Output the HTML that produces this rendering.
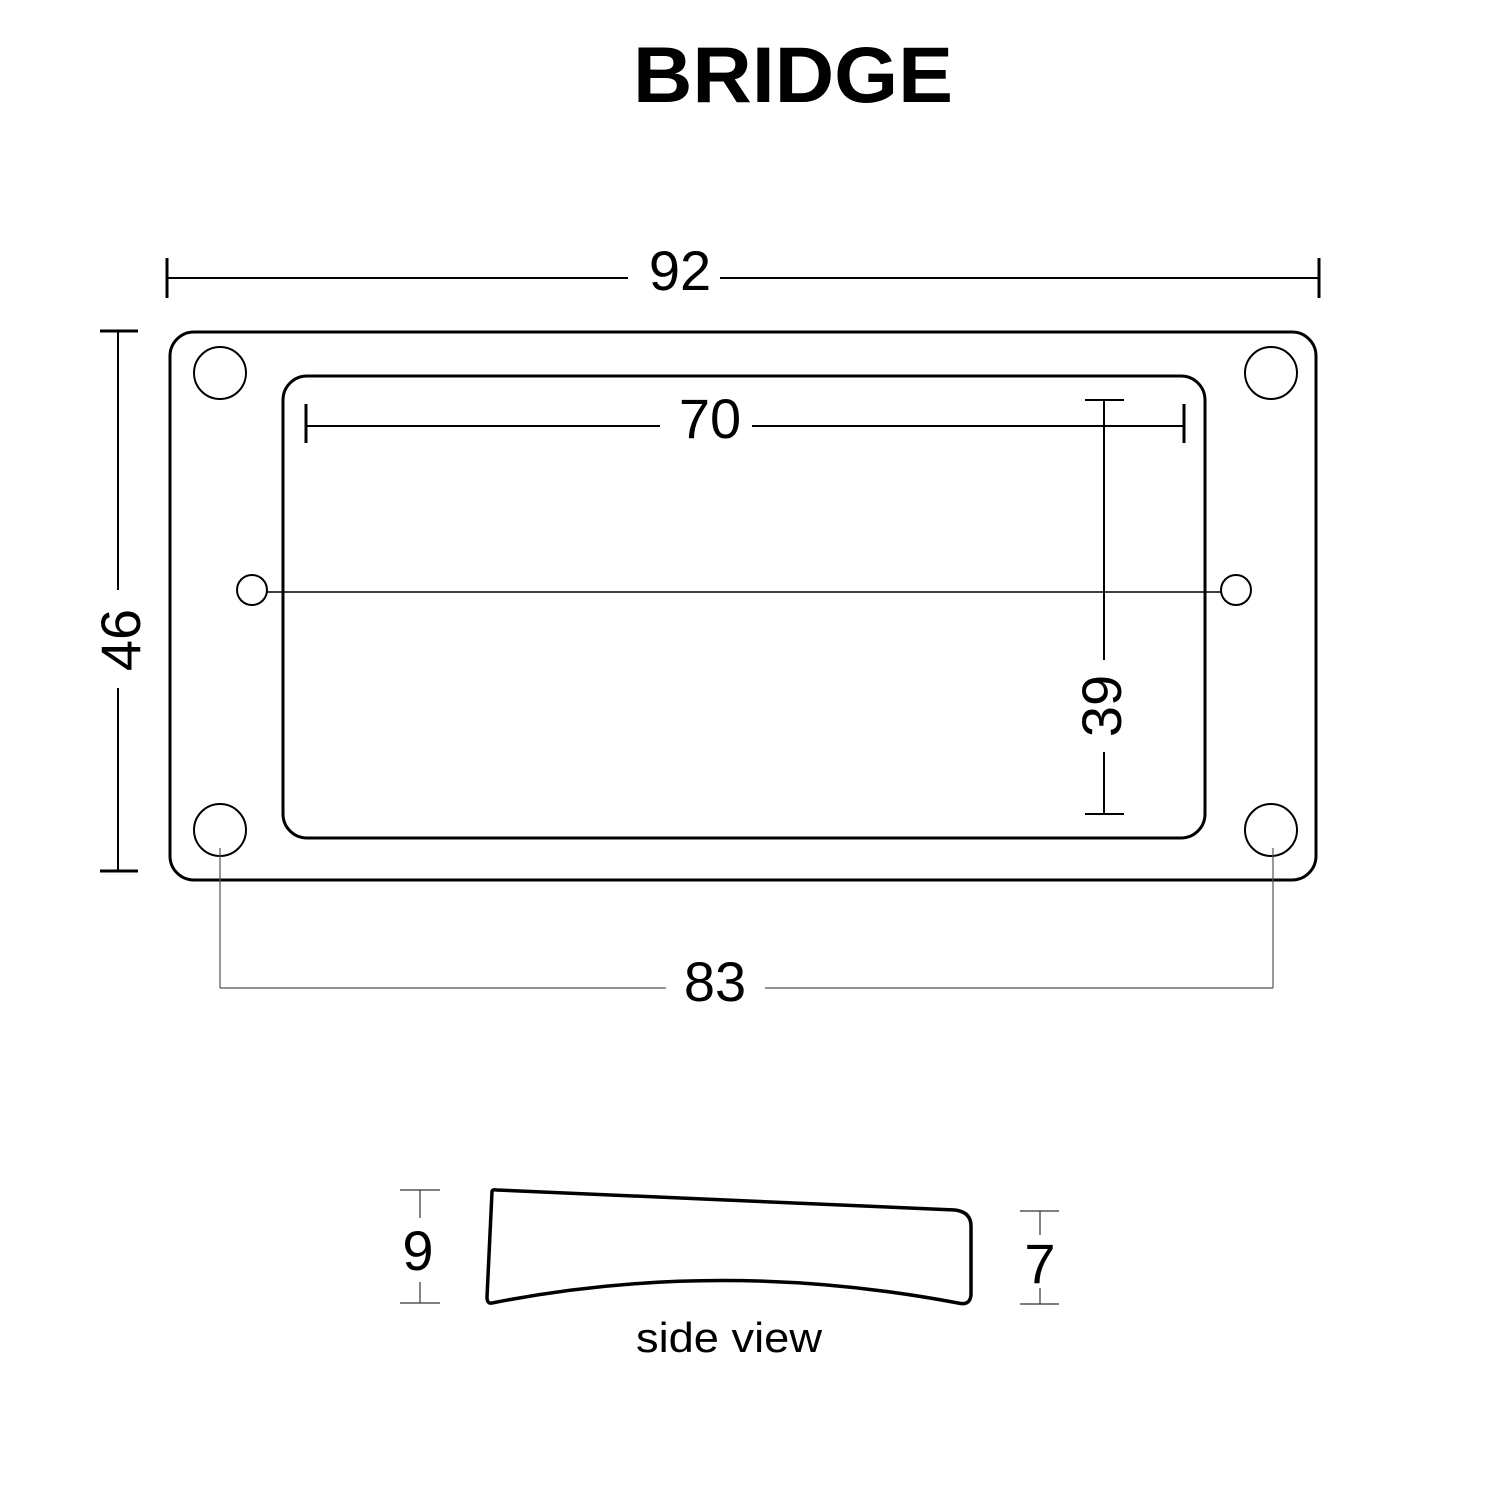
<!DOCTYPE html>
<html><head><meta charset="utf-8"><style>html,body{margin:0;padding:0;background:#fff}</style></head>
<body>
<svg width="1500" height="1500" viewBox="0 0 1500 1500" xmlns="http://www.w3.org/2000/svg" font-family="Liberation Sans, Arial, sans-serif">
<rect width="1500" height="1500" fill="#fff"/>
<text x="633" y="102" font-size="79" font-weight="bold" textLength="320" lengthAdjust="spacingAndGlyphs">BRIDGE</text>

<g stroke="#000" fill="none">
<line x1="167" y1="278" x2="628" y2="278" stroke-width="2"/>
<line x1="720" y1="278" x2="1319" y2="278" stroke-width="2"/>
<line x1="167" y1="258" x2="167" y2="298" stroke-width="3"/>
<line x1="1319" y1="258" x2="1319" y2="298" stroke-width="3"/>
<line x1="118" y1="330" x2="118" y2="590" stroke-width="2"/>
<line x1="118" y1="688" x2="118" y2="872" stroke-width="2"/>
<line x1="100" y1="331" x2="138" y2="331" stroke-width="3"/>
<line x1="100" y1="871" x2="138" y2="871" stroke-width="3"/>

<rect x="170" y="332" width="1146" height="548" rx="24" stroke-width="3"/>
<rect x="283" y="376" width="922" height="462" rx="24" stroke-width="3"/>
<circle cx="220" cy="373" r="26" stroke-width="2"/>
<circle cx="1271" cy="373" r="26" stroke-width="2"/>
<circle cx="220" cy="830" r="26" stroke-width="2"/>
<circle cx="1271" cy="830" r="26" stroke-width="2"/>
<circle cx="252" cy="590" r="15" stroke-width="2"/>
<circle cx="1236" cy="590" r="15" stroke-width="2"/>
<line x1="267" y1="592" x2="1221" y2="592" stroke-width="1.5"/>

<line x1="306" y1="426" x2="660" y2="426" stroke-width="2"/>
<line x1="752" y1="426" x2="1184" y2="426" stroke-width="2"/>
<line x1="306" y1="404" x2="306" y2="443" stroke-width="3"/>
<line x1="1184" y1="404" x2="1184" y2="443" stroke-width="3"/>
<line x1="1104" y1="400" x2="1104" y2="660" stroke-width="2"/>
<line x1="1104" y1="752" x2="1104" y2="814" stroke-width="2"/>
<line x1="1085" y1="400" x2="1124" y2="400" stroke-width="2"/>
<line x1="1085" y1="814" x2="1124" y2="814" stroke-width="2"/>
<g stroke="#555" stroke-width="1.2">
<line x1="220" y1="848" x2="220" y2="988"/>
<line x1="1273" y1="848" x2="1273" y2="988"/>
<line x1="220" y1="988" x2="666" y2="988"/>
<line x1="765" y1="988" x2="1273" y2="988"/>
</g>

<path d="M492,1192 Q492,1189 497,1190 L955,1210 Q971,1212 971,1226 L971,1295 Q970,1306 958,1303 Q720,1258 492,1303 Q487,1304 487,1297 Z" stroke-width="3.5" stroke-linejoin="round"/>
<g stroke="#333" stroke-width="1.2">
<line x1="420" y1="1190" x2="420" y2="1218"/>
<line x1="420" y1="1282" x2="420" y2="1303"/>
<line x1="400" y1="1190" x2="440" y2="1190"/>
<line x1="400" y1="1303" x2="440" y2="1303"/>
<line x1="1040" y1="1211" x2="1040" y2="1235"/>
<line x1="1040" y1="1288" x2="1040" y2="1304"/>
<line x1="1020" y1="1211" x2="1059" y2="1211"/>
<line x1="1020" y1="1304" x2="1059" y2="1304"/>
</g>
</g>

<g font-size="56" fill="#000" text-anchor="middle">
<text x="680" y="290">92</text>
<text x="710" y="438">70</text>
<text x="715" y="1001">83</text>
<text transform="translate(140,640) rotate(-90)">46</text>
<text transform="translate(1121,706) rotate(-90)">39</text>
<text x="418" y="1270">9</text>
<text x="1040" y="1283">7</text>
</g>
<text x="636" y="1352" font-size="42" textLength="186" lengthAdjust="spacingAndGlyphs">side view</text>
</svg>
</body></html>
